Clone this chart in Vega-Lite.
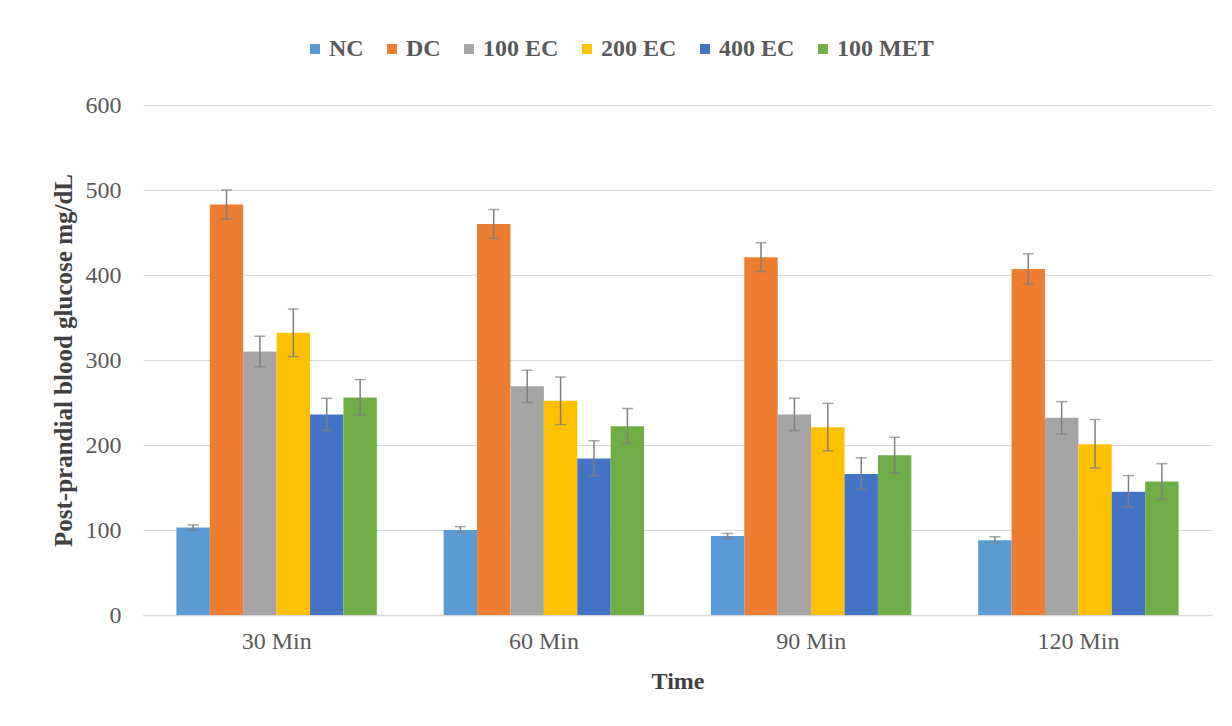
{
  "$schema": "https://vega.github.io/schema/vega-lite/v6.json",
  "width": 1069,
  "height": 510,
  "autosize": {"type": "none"},
  "padding": {"left": 143, "top": 105, "right": 20, "bottom": 111},
  "background": "white",
  "config": {
    "view": {"stroke": null},
    "font": "Liberation Serif"
  },
  "data": {
    "values": [
      {"time": "30 Min", "group": "NC", "value": 103, "lo": 100, "hi": 106},
      {"time": "30 Min", "group": "DC", "value": 483, "lo": 466, "hi": 500},
      {"time": "30 Min", "group": "100 EC", "value": 310, "lo": 292, "hi": 328},
      {"time": "30 Min", "group": "200 EC", "value": 332, "lo": 304, "hi": 360},
      {"time": "30 Min", "group": "400 EC", "value": 236, "lo": 217, "hi": 255},
      {"time": "30 Min", "group": "100 MET", "value": 256, "lo": 235, "hi": 277},
      {"time": "60 Min", "group": "NC", "value": 100, "lo": 97, "hi": 104},
      {"time": "60 Min", "group": "DC", "value": 460, "lo": 443, "hi": 477},
      {"time": "60 Min", "group": "100 EC", "value": 269, "lo": 250, "hi": 288},
      {"time": "60 Min", "group": "200 EC", "value": 252, "lo": 224, "hi": 280},
      {"time": "60 Min", "group": "400 EC", "value": 184, "lo": 164, "hi": 205},
      {"time": "60 Min", "group": "100 MET", "value": 222, "lo": 202, "hi": 243},
      {"time": "90 Min", "group": "NC", "value": 93, "lo": 90, "hi": 96},
      {"time": "90 Min", "group": "DC", "value": 421, "lo": 404, "hi": 438},
      {"time": "90 Min", "group": "100 EC", "value": 236, "lo": 217, "hi": 255},
      {"time": "90 Min", "group": "200 EC", "value": 221, "lo": 193, "hi": 249},
      {"time": "90 Min", "group": "400 EC", "value": 166, "lo": 148, "hi": 185},
      {"time": "90 Min", "group": "100 MET", "value": 188, "lo": 167, "hi": 209},
      {"time": "120 Min", "group": "NC", "value": 88, "lo": 85, "hi": 92},
      {"time": "120 Min", "group": "DC", "value": 407, "lo": 389, "hi": 425},
      {"time": "120 Min", "group": "100 EC", "value": 232, "lo": 213, "hi": 251},
      {"time": "120 Min", "group": "200 EC", "value": 201, "lo": 173, "hi": 230},
      {"time": "120 Min", "group": "400 EC", "value": 145, "lo": 127, "hi": 164},
      {"time": "120 Min", "group": "100 MET", "value": 157, "lo": 136, "hi": 178}
    ]
  },
  "encoding": {
    "x": {
      "field": "time", "type": "nominal",
      "sort": ["30 Min", "60 Min", "90 Min", "120 Min"],
      "scale": {"paddingInner": 0.25, "paddingOuter": 0.125},
      "axis": {
        "title": "Time", "titleFont": "Liberation Serif", "titleFontSize": 24, "titleFontWeight": "bold",
        "titleColor": "#404040", "titlePadding": 16,
        "labelFont": "Liberation Serif", "labelFontSize": 24, "labelColor": "#595959", "labelAngle": 0,
        "labelPadding": 14, "ticks": false, "domainColor": "#d9d9d9", "domainWidth": 1.5, "grid": false
      }
    },
    "xOffset": {
      "field": "group", "type": "nominal",
      "sort": ["NC", "DC", "100 EC", "200 EC", "400 EC", "100 MET"],
      "scale": {"paddingInner": 0, "paddingOuter": 0}
    }
  },
  "layer": [
    {
      "mark": {"type": "bar"},
      "encoding": {
        "y": {
          "field": "value", "type": "quantitative",
          "scale": {"domain": [0, 600]},
          "axis": {
            "title": "Post-prandial  blood glucose mg/dL", "titleFont": "Liberation Serif", "titleFontSize": 25,
            "titleFontWeight": "bold", "titleColor": "#404040", "titlePadding": 9,
            "labelFont": "Liberation Serif", "labelFontSize": 24, "labelColor": "#595959", "labelPadding": 22,
            "values": [0, 100, 200, 300, 400, 500, 600],
            "ticks": false, "domain": false, "gridColor": "#d9d9d9", "gridWidth": 1.2
          }
        },
        "color": {
          "field": "group", "type": "nominal",
          "sort": ["NC", "DC", "100 EC", "200 EC", "400 EC", "100 MET"],
          "scale": {
            "domain": ["NC", "DC", "100 EC", "200 EC", "400 EC", "100 MET"],
            "range": ["#5B9BD5", "#ED7D31", "#A5A5A5", "#FFC000", "#4472C4", "#70AD47"]
          },
          "legend": {
            "title": null, "orient": "none", "direction": "horizontal",
            "legendX": 160, "legendY": -68,
            "symbolType": "square", "symbolSize": 100, "symbolStrokeWidth": 0,
            "labelFont": "Liberation Serif", "labelFontSize": 24, "labelFontWeight": "bold",
            "labelColor": "#595959", "labelOffset": 2, "columnPadding": 16
          }
        }
      }
    },
    {
      "mark": {"type": "rule", "color": "#7f7f7f", "strokeWidth": 1.5},
      "encoding": {
        "y": {"field": "lo", "type": "quantitative"},
        "y2": {"field": "hi"}
      }
    },
    {
      "mark": {"type": "tick", "color": "#7f7f7f", "size": 11, "thickness": 1.5, "orient": "horizontal"},
      "encoding": {"y": {"field": "lo", "type": "quantitative"}}
    },
    {
      "mark": {"type": "tick", "color": "#7f7f7f", "size": 11, "thickness": 1.5, "orient": "horizontal"},
      "encoding": {"y": {"field": "hi", "type": "quantitative"}}
    }
  ]
}
